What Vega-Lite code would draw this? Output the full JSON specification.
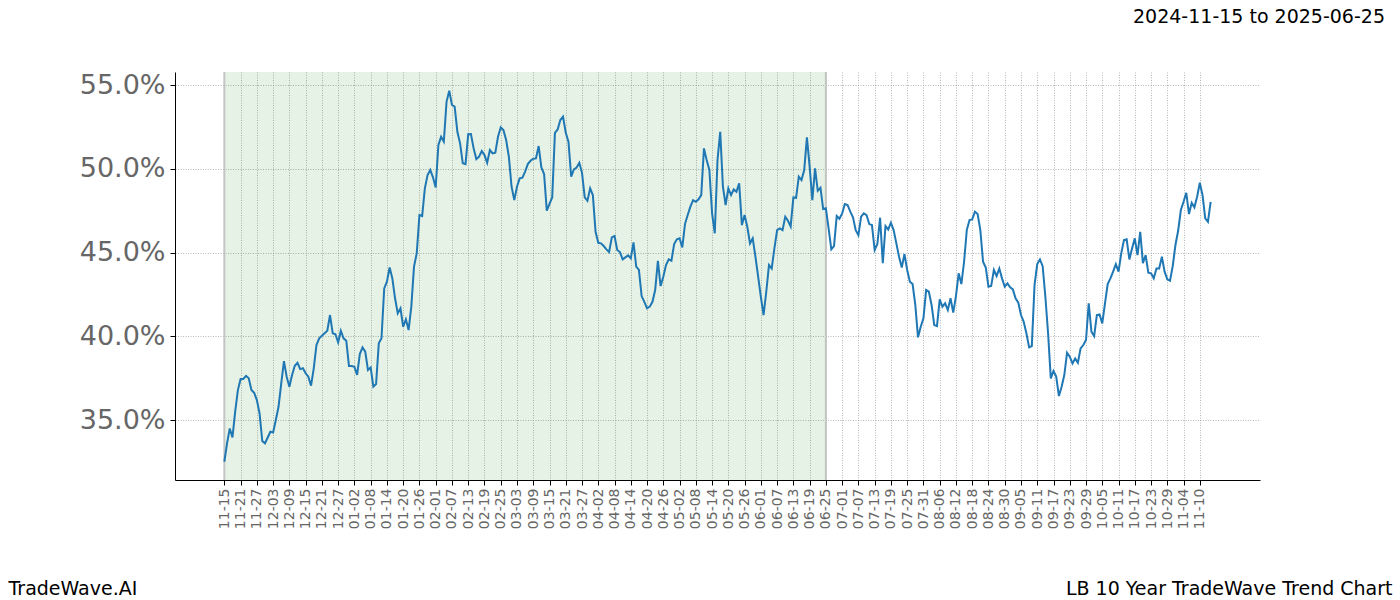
{
  "$schema": "https://vega.github.io/schema/vega-lite/v6.json",
  "width": 1085,
  "height": 408,
  "autosize": {"type": "none"},
  "padding": {"left": 175, "top": 72, "right": 140, "bottom": 120},
  "background": "white",
  "config": {"view": {"stroke": null}, "font": "DejaVu Sans"},
  "title": {"text": "2024-11-15 to 2025-06-25", "anchor": "end", "frame": "group", "dx": 125, "offset": 44, "fontSize": 19, "fontWeight": "normal", "color": "black", "font": "DejaVu Sans"},
  "datasets": {
    "band": [{"d": "2024-11-15", "d2": "2025-06-25"}],
    "edges": [{"d": "2024-11-15"}, {"d": "2025-06-25"}],
    "series": [
      {"d":"2024-11-15","v":32.51},{"d":"2024-11-16","v":33.61},{"d":"2024-11-17","v":34.50},{"d":"2024-11-18","v":33.96},{"d":"2024-11-19","v":35.50},{"d":"2024-11-20","v":36.79},{"d":"2024-11-21","v":37.45},{"d":"2024-11-22","v":37.45},{"d":"2024-11-23","v":37.64},{"d":"2024-11-24","v":37.49},{"d":"2024-11-25","v":36.79},{"d":"2024-11-26","v":36.63},{"d":"2024-11-27","v":36.19},{"d":"2024-11-28","v":35.40},{"d":"2024-11-29","v":33.75},{"d":"2024-11-30","v":33.61},
      {"d":"2024-12-01","v":33.96},{"d":"2024-12-02","v":34.30},{"d":"2024-12-03","v":34.26},{"d":"2024-12-04","v":35.00},{"d":"2024-12-05","v":35.79},{"d":"2024-12-06","v":37.19},{"d":"2024-12-07","v":38.52},{"d":"2024-12-08","v":37.59},{"d":"2024-12-09","v":36.99},{"d":"2024-12-10","v":37.69},{"d":"2024-12-11","v":38.24},{"d":"2024-12-12","v":38.42},{"d":"2024-12-13","v":38.04},{"d":"2024-12-14","v":38.09},{"d":"2024-12-15","v":37.79},{"d":"2024-12-16","v":37.59},{"d":"2024-12-17","v":37.05},{"d":"2024-12-18","v":38.09},{"d":"2024-12-19","v":39.48},{"d":"2024-12-20","v":39.88},{"d":"2024-12-22","v":40.18},{"d":"2024-12-23","v":40.33},{"d":"2024-12-24","v":41.27},{"d":"2024-12-25","v":40.18},{"d":"2024-12-26","v":40.12},{"d":"2024-12-27","v":39.64},{"d":"2024-12-28","v":40.33},{"d":"2024-12-29","v":39.88},{"d":"2024-12-30","v":39.74},{"d":"2024-12-31","v":38.22},
      {"d":"2025-01-01","v":38.22},{"d":"2025-01-02","v":38.18},{"d":"2025-01-03","v":37.69},{"d":"2025-01-04","v":38.94},{"d":"2025-01-05","v":39.34},{"d":"2025-01-06","v":39.08},{"d":"2025-01-07","v":37.99},{"d":"2025-01-08","v":38.14},{"d":"2025-01-09","v":36.99},{"d":"2025-01-10","v":37.15},{"d":"2025-01-11","v":39.58},{"d":"2025-01-12","v":39.88},{"d":"2025-01-13","v":42.86},{"d":"2025-01-14","v":43.26},{"d":"2025-01-15","v":44.11},{"d":"2025-01-16","v":43.46},{"d":"2025-01-17","v":42.27},{"d":"2025-01-18","v":41.37},{"d":"2025-01-19","v":41.67},{"d":"2025-01-20","v":40.57},{"d":"2025-01-21","v":41.01},{"d":"2025-01-22","v":40.37},{"d":"2025-01-23","v":41.77},{"d":"2025-01-24","v":44.16},{"d":"2025-01-25","v":44.95},{"d":"2025-01-26","v":47.24},{"d":"2025-01-27","v":47.18},{"d":"2025-01-28","v":48.83},{"d":"2025-01-29","v":49.63},{"d":"2025-01-30","v":49.93},{"d":"2025-01-31","v":49.49},
      {"d":"2025-02-01","v":48.89},{"d":"2025-02-02","v":51.42},{"d":"2025-02-03","v":51.91},{"d":"2025-02-04","v":51.62},{"d":"2025-02-05","v":54.00},{"d":"2025-02-06","v":54.66},{"d":"2025-02-07","v":53.81},{"d":"2025-02-08","v":53.71},{"d":"2025-02-09","v":52.21},{"d":"2025-02-10","v":51.52},{"d":"2025-02-11","v":50.33},{"d":"2025-02-12","v":50.28},{"d":"2025-02-13","v":52.06},{"d":"2025-02-14","v":52.07},{"d":"2025-02-15","v":51.22},{"d":"2025-02-16","v":50.58},{"d":"2025-02-17","v":50.72},{"d":"2025-02-18","v":51.06},{"d":"2025-02-19","v":50.82},{"d":"2025-02-20","v":50.36},{"d":"2025-02-21","v":51.12},{"d":"2025-02-22","v":50.92},{"d":"2025-02-23","v":50.96},{"d":"2025-02-24","v":51.91},{"d":"2025-02-25","v":52.47},{"d":"2025-02-26","v":52.31},{"d":"2025-02-27","v":51.72},{"d":"2025-02-28","v":50.72},
      {"d":"2025-03-01","v":48.93},{"d":"2025-03-02","v":48.13},{"d":"2025-03-03","v":48.93},{"d":"2025-03-04","v":49.43},{"d":"2025-03-05","v":49.47},{"d":"2025-03-06","v":49.83},{"d":"2025-03-07","v":50.28},{"d":"2025-03-08","v":50.48},{"d":"2025-03-09","v":50.60},{"d":"2025-03-10","v":50.62},{"d":"2025-03-11","v":51.36},{"d":"2025-03-12","v":50.08},{"d":"2025-03-13","v":49.69},{"d":"2025-03-14","v":47.50},{"d":"2025-03-15","v":47.90},{"d":"2025-03-16","v":48.29},{"d":"2025-03-17","v":52.15},{"d":"2025-03-18","v":52.35},{"d":"2025-03-19","v":52.91},{"d":"2025-03-20","v":53.11},{"d":"2025-03-21","v":52.15},{"d":"2025-03-22","v":51.62},{"d":"2025-03-23","v":49.53},{"d":"2025-03-24","v":49.97},{"d":"2025-03-25","v":50.08},{"d":"2025-03-26","v":50.36},{"d":"2025-03-27","v":49.76},{"d":"2025-03-28","v":48.29},{"d":"2025-03-29","v":48.09},{"d":"2025-03-30","v":48.83},{"d":"2025-03-31","v":48.43},
      {"d":"2025-04-01","v":46.24},{"d":"2025-04-02","v":45.58},{"d":"2025-04-03","v":45.55},{"d":"2025-04-04","v":45.39},{"d":"2025-04-05","v":45.19},{"d":"2025-04-06","v":45.03},{"d":"2025-04-07","v":45.91},{"d":"2025-04-08","v":45.99},{"d":"2025-04-09","v":45.15},{"d":"2025-04-10","v":45.03},{"d":"2025-04-11","v":44.59},{"d":"2025-04-12","v":44.71},{"d":"2025-04-13","v":44.83},{"d":"2025-04-14","v":44.65},{"d":"2025-04-15","v":45.61},{"d":"2025-04-16","v":44.16},{"d":"2025-04-17","v":43.96},{"d":"2025-04-18","v":42.40},{"d":"2025-04-19","v":42.06},{"d":"2025-04-20","v":41.67},{"d":"2025-04-21","v":41.77},{"d":"2025-04-22","v":42.06},{"d":"2025-04-23","v":42.76},{"d":"2025-04-24","v":44.51},{"d":"2025-04-25","v":43.00},{"d":"2025-04-26","v":43.56},{"d":"2025-04-27","v":44.25},{"d":"2025-04-28","v":44.59},{"d":"2025-04-29","v":44.51},{"d":"2025-04-30","v":45.51},
      {"d":"2025-05-01","v":45.79},{"d":"2025-05-02","v":45.85},{"d":"2025-05-03","v":45.31},{"d":"2025-05-04","v":46.70},{"d":"2025-05-05","v":47.24},{"d":"2025-05-06","v":47.74},{"d":"2025-05-07","v":48.13},{"d":"2025-05-08","v":48.03},{"d":"2025-05-09","v":48.18},{"d":"2025-05-10","v":48.43},{"d":"2025-05-11","v":51.22},{"d":"2025-05-12","v":50.52},{"d":"2025-05-13","v":49.93},{"d":"2025-05-14","v":47.34},{"d":"2025-05-15","v":46.15},{"d":"2025-05-16","v":50.52},{"d":"2025-05-17","v":52.21},{"d":"2025-05-18","v":48.93},{"d":"2025-05-19","v":47.84},{"d":"2025-05-20","v":48.83},{"d":"2025-05-21","v":48.43},{"d":"2025-05-22","v":48.77},{"d":"2025-05-23","v":48.63},{"d":"2025-05-24","v":49.13},{"d":"2025-05-25","v":46.64},{"d":"2025-05-26","v":47.24},{"d":"2025-05-27","v":46.54},{"d":"2025-05-28","v":45.55},{"d":"2025-05-29","v":45.85},{"d":"2025-05-30","v":44.75},{"d":"2025-05-31","v":43.56},
      {"d":"2025-06-01","v":42.36},{"d":"2025-06-02","v":41.27},{"d":"2025-06-03","v":42.66},{"d":"2025-06-04","v":44.25},{"d":"2025-06-05","v":44.05},{"d":"2025-06-06","v":45.25},{"d":"2025-06-07","v":46.34},{"d":"2025-06-08","v":46.44},{"d":"2025-06-09","v":46.34},{"d":"2025-06-10","v":47.14},{"d":"2025-06-11","v":46.90},{"d":"2025-06-12","v":46.56},{"d":"2025-06-13","v":48.29},{"d":"2025-06-14","v":48.27},{"d":"2025-06-15","v":49.53},{"d":"2025-06-16","v":49.33},{"d":"2025-06-17","v":49.93},{"d":"2025-06-18","v":51.88},{"d":"2025-06-19","v":50.13},{"d":"2025-06-20","v":48.13},{"d":"2025-06-21","v":50.03},{"d":"2025-06-22","v":48.69},{"d":"2025-06-23","v":48.87},{"d":"2025-06-24","v":47.60},{"d":"2025-06-25","v":47.64},{"d":"2025-06-26","v":46.44},{"d":"2025-06-27","v":45.19},{"d":"2025-06-28","v":45.39},{"d":"2025-06-29","v":47.18},{"d":"2025-06-30","v":47.02},
      {"d":"2025-07-01","v":47.34},{"d":"2025-07-02","v":47.90},{"d":"2025-07-03","v":47.84},{"d":"2025-07-04","v":47.44},{"d":"2025-07-05","v":47.10},{"d":"2025-07-06","v":46.34},{"d":"2025-07-07","v":46.04},{"d":"2025-07-08","v":47.14},{"d":"2025-07-09","v":47.34},{"d":"2025-07-10","v":47.24},{"d":"2025-07-11","v":46.70},{"d":"2025-07-12","v":46.64},{"d":"2025-07-13","v":45.15},{"d":"2025-07-14","v":45.51},{"d":"2025-07-15","v":47.08},{"d":"2025-07-16","v":44.36},{"d":"2025-07-17","v":46.58},{"d":"2025-07-18","v":46.38},{"d":"2025-07-19","v":46.78},{"d":"2025-07-20","v":46.34},{"d":"2025-07-21","v":45.55},{"d":"2025-07-22","v":44.75},{"d":"2025-07-23","v":44.11},{"d":"2025-07-24","v":44.91},{"d":"2025-07-25","v":43.96},{"d":"2025-07-26","v":43.26},{"d":"2025-07-27","v":43.12},{"d":"2025-07-28","v":41.87},{"d":"2025-07-29","v":39.94},{"d":"2025-07-30","v":40.57},{"d":"2025-07-31","v":41.07},
      {"d":"2025-08-01","v":42.76},{"d":"2025-08-02","v":42.66},{"d":"2025-08-03","v":41.87},{"d":"2025-08-04","v":40.67},{"d":"2025-08-05","v":40.61},{"d":"2025-08-06","v":42.21},{"d":"2025-08-07","v":41.77},{"d":"2025-08-08","v":41.97},{"d":"2025-08-09","v":41.57},{"d":"2025-08-10","v":42.27},{"d":"2025-08-11","v":41.41},{"d":"2025-08-12","v":42.40},{"d":"2025-08-13","v":43.76},{"d":"2025-08-14","v":43.12},{"d":"2025-08-15","v":44.45},{"d":"2025-08-16","v":46.34},{"d":"2025-08-17","v":46.94},{"d":"2025-08-18","v":46.98},{"d":"2025-08-19","v":47.44},{"d":"2025-08-20","v":47.30},{"d":"2025-08-21","v":46.34},{"d":"2025-08-22","v":44.45},{"d":"2025-08-23","v":44.11},{"d":"2025-08-24","v":42.96},{"d":"2025-08-25","v":43.00},{"d":"2025-08-26","v":43.96},{"d":"2025-08-27","v":43.60},{"d":"2025-08-28","v":44.05},{"d":"2025-08-29","v":43.46},{"d":"2025-08-30","v":42.96},{"d":"2025-08-31","v":43.16},
      {"d":"2025-09-01","v":42.92},{"d":"2025-09-02","v":42.80},{"d":"2025-09-03","v":42.27},{"d":"2025-09-04","v":42.01},{"d":"2025-09-05","v":41.27},{"d":"2025-09-06","v":40.87},{"d":"2025-09-07","v":40.18},{"d":"2025-09-08","v":39.34},{"d":"2025-09-09","v":39.42},{"d":"2025-09-10","v":43.06},{"d":"2025-09-11","v":44.31},{"d":"2025-09-12","v":44.59},{"d":"2025-09-13","v":44.19},{"d":"2025-09-14","v":42.36},{"d":"2025-09-15","v":40.18},{"d":"2025-09-16","v":37.49},{"d":"2025-09-17","v":37.93},{"d":"2025-09-18","v":37.59},{"d":"2025-09-19","v":36.43},{"d":"2025-09-20","v":36.99},{"d":"2025-09-21","v":37.70},{"d":"2025-09-22","v":39.02},{"d":"2025-09-23","v":38.78},{"d":"2025-09-24","v":38.38},{"d":"2025-09-25","v":38.68},{"d":"2025-09-26","v":38.42},{"d":"2025-09-27","v":39.28},{"d":"2025-09-28","v":39.48},{"d":"2025-09-29","v":39.78},{"d":"2025-09-30","v":41.97},
      {"d":"2025-10-01","v":40.27},{"d":"2025-10-02","v":40.01},{"d":"2025-10-03","v":41.27},{"d":"2025-10-04","v":41.31},{"d":"2025-10-05","v":40.77},{"d":"2025-10-06","v":41.97},{"d":"2025-10-07","v":43.12},{"d":"2025-10-08","v":43.46},{"d":"2025-10-09","v":43.86},{"d":"2025-10-10","v":44.31},{"d":"2025-10-11","v":43.86},{"d":"2025-10-12","v":44.95},{"d":"2025-10-13","v":45.75},{"d":"2025-10-14","v":45.79},{"d":"2025-10-15","v":44.59},{"d":"2025-10-16","v":45.25},{"d":"2025-10-17","v":45.85},{"d":"2025-10-18","v":44.85},{"d":"2025-10-19","v":46.24},{"d":"2025-10-20","v":44.36},{"d":"2025-10-21","v":44.85},{"d":"2025-10-22","v":43.80},{"d":"2025-10-23","v":43.76},{"d":"2025-10-24","v":43.46},{"d":"2025-10-25","v":44.05},{"d":"2025-10-26","v":44.05},{"d":"2025-10-27","v":44.75},{"d":"2025-10-28","v":43.86},{"d":"2025-10-29","v":43.40},{"d":"2025-10-30","v":43.32},{"d":"2025-10-31","v":44.19},
      {"d":"2025-11-01","v":45.45},{"d":"2025-11-02","v":46.30},{"d":"2025-11-03","v":47.54},{"d":"2025-11-04","v":48.03},{"d":"2025-11-05","v":48.57},{"d":"2025-11-06","v":47.30},{"d":"2025-11-07","v":47.97},{"d":"2025-11-08","v":47.70},{"d":"2025-11-09","v":48.33},{"d":"2025-11-10","v":49.17},{"d":"2025-11-11","v":48.43},{"d":"2025-11-12","v":47.04},{"d":"2025-11-13","v":46.84},{"d":"2025-11-14","v":48.03}
    ]
  },
  "encoding": {
    "x": {
      "field": "d",
      "type": "temporal",
      "scale": {"type": "utc", "domain": [{"year": 2024, "month": 10, "date": 27, "hours": 19, "utc": true}, {"year": 2025, "month": 12, "date": 2, "hours": 5, "utc": true}]},
      "axis": {
        "values": [
          {"year":2024,"month":11,"date":15,"utc":true},{"year":2024,"month":11,"date":21,"utc":true},{"year":2024,"month":11,"date":27,"utc":true},{"year":2024,"month":12,"date":3,"utc":true},{"year":2024,"month":12,"date":9,"utc":true},{"year":2024,"month":12,"date":15,"utc":true},{"year":2024,"month":12,"date":21,"utc":true},{"year":2024,"month":12,"date":27,"utc":true},
          {"year":2025,"month":1,"date":2,"utc":true},{"year":2025,"month":1,"date":8,"utc":true},{"year":2025,"month":1,"date":14,"utc":true},{"year":2025,"month":1,"date":20,"utc":true},{"year":2025,"month":1,"date":26,"utc":true},{"year":2025,"month":2,"date":1,"utc":true},{"year":2025,"month":2,"date":7,"utc":true},{"year":2025,"month":2,"date":13,"utc":true},{"year":2025,"month":2,"date":19,"utc":true},{"year":2025,"month":2,"date":25,"utc":true},{"year":2025,"month":3,"date":3,"utc":true},{"year":2025,"month":3,"date":9,"utc":true},{"year":2025,"month":3,"date":15,"utc":true},{"year":2025,"month":3,"date":21,"utc":true},{"year":2025,"month":3,"date":27,"utc":true},{"year":2025,"month":4,"date":2,"utc":true},{"year":2025,"month":4,"date":8,"utc":true},{"year":2025,"month":4,"date":14,"utc":true},{"year":2025,"month":4,"date":20,"utc":true},{"year":2025,"month":4,"date":26,"utc":true},{"year":2025,"month":5,"date":2,"utc":true},{"year":2025,"month":5,"date":8,"utc":true},{"year":2025,"month":5,"date":14,"utc":true},{"year":2025,"month":5,"date":20,"utc":true},{"year":2025,"month":5,"date":26,"utc":true},{"year":2025,"month":6,"date":1,"utc":true},{"year":2025,"month":6,"date":7,"utc":true},{"year":2025,"month":6,"date":13,"utc":true},{"year":2025,"month":6,"date":19,"utc":true},{"year":2025,"month":6,"date":25,"utc":true},{"year":2025,"month":7,"date":1,"utc":true},{"year":2025,"month":7,"date":7,"utc":true},{"year":2025,"month":7,"date":13,"utc":true},{"year":2025,"month":7,"date":19,"utc":true},{"year":2025,"month":7,"date":25,"utc":true},{"year":2025,"month":7,"date":31,"utc":true},{"year":2025,"month":8,"date":6,"utc":true},{"year":2025,"month":8,"date":12,"utc":true},{"year":2025,"month":8,"date":18,"utc":true},{"year":2025,"month":8,"date":24,"utc":true},{"year":2025,"month":8,"date":30,"utc":true},{"year":2025,"month":9,"date":5,"utc":true},{"year":2025,"month":9,"date":11,"utc":true},{"year":2025,"month":9,"date":17,"utc":true},{"year":2025,"month":9,"date":23,"utc":true},{"year":2025,"month":9,"date":29,"utc":true},{"year":2025,"month":10,"date":5,"utc":true},{"year":2025,"month":10,"date":11,"utc":true},{"year":2025,"month":10,"date":17,"utc":true},{"year":2025,"month":10,"date":23,"utc":true},{"year":2025,"month":10,"date":29,"utc":true},{"year":2025,"month":11,"date":4,"utc":true},{"year":2025,"month":11,"date":10,"utc":true}
        ],
        "format": "%m-%d",
        "labelAngle": -90,
        "labelFontSize": 14,
        "labelColor": "#666666",
        "labelFont": "DejaVu Sans",
        "labelPadding": 3,
        "labelOverlap": false,
        "labelFlush": false,
        "tickSize": 5,
        "tickColor": "black",
        "domainColor": "black",
        "domainWidth": 1,
        "grid": true,
        "gridColor": "#999999",
        "gridDash": [1, 1.5],
        "gridWidth": 0.7,
        "title": "TradeWave.AI",
        "titleX": -167,
        "titleY": 108,
        "titleAlign": "left",
        "titleBaseline": "middle",
        "titleAngle": 0,
        "titleFontSize": 19,
        "titleFontWeight": "normal",
        "titleColor": "black",
        "titleFont": "DejaVu Sans"
      }
    }
  },
  "layer": [
    {
      "data": {"name": "band"},
      "mark": {"type": "rect", "color": "#008000", "opacity": 0.1},
      "encoding": {"x2": {"field": "d2"}}
    },
    {
      "data": {"name": "edges"},
      "mark": {"type": "rule", "color": "#c4c4c4", "strokeWidth": 2},
      "encoding": {}
    },
    {
      "data": {"name": "series"},
      "mark": {"type": "line", "color": "#1f77b4", "strokeWidth": 2},
      "encoding": {
        "y": {
          "field": "v",
          "type": "quantitative",
          "scale": {"domain": [31.42, 55.78], "nice": false, "zero": false},
          "axis": {
            "values": [35, 40, 45, 50, 55],
            "labelExpr": "format(datum.value, '.1f') + '%'",
            "labelFontSize": 27,
            "labelColor": "#666666",
            "labelFont": "DejaVu Sans",
            "labelPadding": 5,
            "tickSize": 5,
            "tickColor": "black",
            "domainColor": "black",
            "domainWidth": 1,
            "grid": true,
            "gridColor": "#999999",
            "gridDash": [1, 1.5],
            "gridWidth": 0.7,
            "title": "LB 10 Year TradeWave Trend Chart",
            "titleAngle": 0,
            "titleX": 1217,
            "titleY": 516,
            "titleAlign": "right",
            "titleBaseline": "middle",
            "titleFontSize": 19,
            "titleFontWeight": "normal",
            "titleColor": "black",
            "titleFont": "DejaVu Sans"
          }
        }
      }
    }
  ]
}
